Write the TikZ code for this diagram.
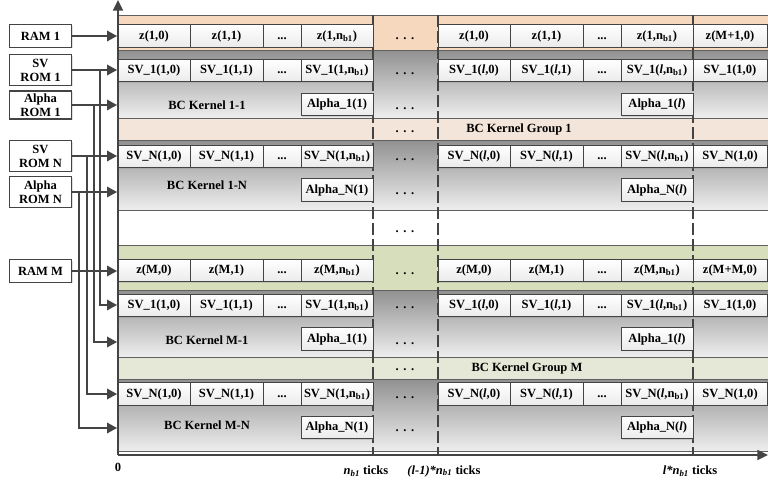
\documentclass[tikz,border=0pt]{standalone}
\usepackage{fontspec}
\setmainfont{Liberation Serif}
\usetikzlibrary{arrows.meta,shadows}

\definecolor{edge}{RGB}{68,68,68}
\definecolor{peach}{RGB}{246,216,191}
\definecolor{peachlt}{RGB}{243,229,218}
\definecolor{olive}{RGB}{214,222,188}
\definecolor{olivelt}{RGB}{229,231,215}
\definecolor{kerntop}{RGB}{145,145,145}
\definecolor{kernbot}{RGB}{238,238,238}
\newcommand{\nbo}{n\textsubscript{b1}}
\newcommand{\ddd}{.\hspace{3.5pt}.\hspace{3.5pt}.}

\tikzset{
  lbl/.style={font=\fontsize{9.4}{10.5}\selectfont\bfseries, inner sep=0pt},
  skip/.style={lbl, text height=6.8pt, text depth=2.2pt},
  cell/.style={skip, draw=edge, line width=0.6pt, top color=white, bottom color=gray!16,
    minimum width=#1, minimum height=17pt,
    drop shadow={opacity=0.25, shadow xshift=0.8pt, shadow yshift=-0.8pt}},
  cell/.default=54pt,
  rom/.style={lbl, draw=edge, line width=0.8pt, fill=white, align=center,
    minimum width=47pt, minimum height=#1,
    drop shadow={opacity=0.25, shadow xshift=0.8pt, shadow yshift=-0.8pt}},
  band/.style={draw=edge!85, line width=0.6pt},
  kern/.style={band, top color=kerntop, bottom color=kernbot},
  dashline/.style={draw=edge, line width=0.8pt, dash pattern=on 9pt off 3pt},
  flow/.style={draw=edge, line width=1pt, -{Triangle[length=7.5pt,width=8pt]}},
  axis/.style={draw=edge, line width=1.5pt, -{Triangle[length=8pt,width=7.5pt]}}
}

\begin{document}
\begin{tikzpicture}[x=0.75pt,y=0.75pt]%
\useasboundingbox (0,0) rectangle (768,-489);%
% bands of the two groups
\path[band, fill=peach] (118,-15) rectangle (769,-50);%
\path[kern] (118,-50) rectangle (769,-118);%
\path[band, fill=peachlt] (118,-118) rectangle (769,-140);%
\path[kern] (118,-140) rectangle (769,-210);%
\path[band, fill=olive] (118,-245) rectangle (769,-290);%
\path[kern] (118,-290) rectangle (769,-357);%
\path[band, fill=olivelt] (118,-357) rectangle (769,-379);%
\path[kern] (118,-379) rectangle (769,-451);%
% tick boundaries
\draw[dashline] (373,-15) -- (373,-455);%
\draw[dashline] (438,-15) -- (438,-455);%
\draw[dashline] (693,-15) -- (693,-455);%
% group 1: RAM row
\node[cell] (z1-0) at (154,-36) {z(1,0)};%
\node[cell=54.75pt] (z1-1) at (226.5,-36) {z(1,1)};%
\node[cell=28.5pt] (z1-d) at (282,-36) {...};%
\node[cell] (z1-n) at (337,-36) {z(1,\nbo)};%
\node[cell] (z1-l0) at (474,-36) {z(1,0)};%
\node[cell=54.75pt] (z1-l1) at (546.5,-36) {z(1,1)};%
\node[cell=28.5pt] (z1-ld) at (602,-36) {...};%
\node[cell] (z1-ln) at (657,-36) {z(1,\nbo)};%
\node[cell=55.5pt] (z1-x) at (730,-36) {z(M+1,0)};%
% kernel 1-1
\node[cell] (k11-0) at (154,-70.5) {SV\_1(1,0)};%
\node[cell=54.75pt] (k11-1) at (226.5,-70.5) {SV\_1(1,1)};%
\node[cell=28.5pt] (k11-d) at (282,-70.5) {...};%
\node[cell] (k11-n) at (337,-70.5) {SV\_1(1,\nbo)};%
\node[cell] (k11-l0) at (474,-70.5) {SV\_1(\textit{l},0)};%
\node[cell=54.75pt] (k11-l1) at (546.5,-70.5) {SV\_1(\textit{l},1)};%
\node[cell=28.5pt] (k11-ld) at (602,-70.5) {...};%
\node[cell] (k11-ln) at (657,-70.5) {SV\_1(\textit{l},\nbo)};%
\node[cell=55.5pt] (k11-x) at (730,-70.5) {SV\_1(1,0)};%
\node[lbl] (k11-lbl) at (207,-105) {BC Kernel 1-1};%
\node[cell] (k11-a) at (337,-104.5) {Alpha\_1(1)};%
\node[cell] (k11-la) at (657,-104.5) {Alpha\_1(\textit{l})};%
\node[lbl] (g1-lbl) at (519,-129) {BC Kernel Group 1};%
% kernel 1-N
\node[cell] (k1N-0) at (154,-156.5) {SV\_N(1,0)};%
\node[cell=54.75pt] (k1N-1) at (226.5,-156.5) {SV\_N(1,1)};%
\node[cell=28.5pt] (k1N-d) at (282,-156.5) {...};%
\node[cell] (k1N-n) at (337,-156.5) {SV\_N(1,\nbo)};%
\node[cell] (k1N-l0) at (474,-156.5) {SV\_N(\textit{l},0)};%
\node[cell=54.75pt] (k1N-l1) at (546.5,-156.5) {SV\_N(\textit{l},1)};%
\node[cell=28.5pt] (k1N-ld) at (602,-156.5) {...};%
\node[cell] (k1N-ln) at (657,-156.5) {SV\_N(\textit{l},\nbo)};%
\node[cell=55.5pt] (k1N-x) at (730,-156.5) {SV\_N(1,0)};%
\node[lbl] (k1N-lbl) at (207,-185) {BC Kernel 1-N};%
\node[cell] (k1N-a) at (337,-190) {Alpha\_N(1)};%
\node[cell] (k1N-la) at (657,-190) {Alpha\_N(\textit{l})};%
% group M: RAM row
\node[cell] (zM-0) at (154,-270.5) {z(M,0)};%
\node[cell=54.75pt] (zM-1) at (226.5,-270.5) {z(M,1)};%
\node[cell=28.5pt] (zM-d) at (282,-270.5) {...};%
\node[cell] (zM-n) at (337,-270.5) {z(M,\nbo)};%
\node[cell] (zM-l0) at (474,-270.5) {z(M,0)};%
\node[cell=54.75pt] (zM-l1) at (546.5,-270.5) {z(M,1)};%
\node[cell=28.5pt] (zM-ld) at (602,-270.5) {...};%
\node[cell] (zM-ln) at (657,-270.5) {z(M,\nbo)};%
\node[cell=55.5pt] (zM-x) at (730,-270.5) {z(M+M,0)};%
% kernel M-1
\node[cell] (kM1-0) at (154,-305.5) {SV\_1(1,0)};%
\node[cell=54.75pt] (kM1-1) at (226.5,-305.5) {SV\_1(1,1)};%
\node[cell=28.5pt] (kM1-d) at (282,-305.5) {...};%
\node[cell] (kM1-n) at (337,-305.5) {SV\_1(1,\nbo)};%
\node[cell] (kM1-l0) at (474,-305.5) {SV\_1(\textit{l},0)};%
\node[cell=54.75pt] (kM1-l1) at (546.5,-305.5) {SV\_1(\textit{l},1)};%
\node[cell=28.5pt] (kM1-ld) at (602,-305.5) {...};%
\node[cell] (kM1-ln) at (657,-305.5) {SV\_1(\textit{l},\nbo)};%
\node[cell=55.5pt] (kM1-x) at (730,-305.5) {SV\_1(1,0)};%
\node[lbl] (kM1-lbl) at (207,-340) {BC Kernel M-1};%
\node[cell] (kM1-a) at (337,-339) {Alpha\_1(1)};%
\node[cell] (kM1-la) at (657,-339) {Alpha\_1(\textit{l})};%
\node[lbl] (gM-lbl) at (527,-368) {BC Kernel Group M};%
% kernel M-N
\node[cell] (kMN-0) at (154,-394) {SV\_N(1,0)};%
\node[cell=54.75pt] (kMN-1) at (226.5,-394) {SV\_N(1,1)};%
\node[cell=28.5pt] (kMN-d) at (282,-394) {...};%
\node[cell] (kMN-n) at (337,-394) {SV\_N(1,\nbo)};%
\node[cell] (kMN-l0) at (474,-394) {SV\_N(\textit{l},0)};%
\node[cell=54.75pt] (kMN-l1) at (546.5,-394) {SV\_N(\textit{l},1)};%
\node[cell=28.5pt] (kMN-ld) at (602,-394) {...};%
\node[cell] (kMN-ln) at (657,-394) {SV\_N(\textit{l},\nbo)};%
\node[cell=55.5pt] (kMN-x) at (730,-394) {SV\_N(1,0)};%
\node[lbl] (kMN-lbl) at (207,-425) {BC Kernel M-N};%
\node[cell] (kMN-a) at (337,-427.5) {Alpha\_N(1)};%
\node[cell] (kMN-la) at (657,-427.5) {Alpha\_N(\textit{l})};%
% skipped ticks
\node[skip] (d1) at (405,-36) {\ddd};%
\node[skip] (d2) at (405,-71) {\ddd};%
\node[skip] (d3) at (405,-106) {\ddd};%
\node[skip] (d4) at (405,-129) {\ddd};%
\node[skip] (d5) at (405,-157) {\ddd};%
\node[skip] (d6) at (405,-191) {\ddd};%
\node[skip] (d7) at (405,-229) {\ddd};%
\node[skip] (d8) at (405,-271) {\ddd};%
\node[skip] (d9) at (405,-305) {\ddd};%
\node[skip] (d10) at (405,-341) {\ddd};%
\node[skip] (d11) at (405,-367) {\ddd};%
\node[skip] (d12) at (405,-395) {\ddd};%
\node[skip] (d13) at (405,-428) {\ddd};%
% axes
\coordinate (O) at (118,-455);%
\coordinate (ytop) at (118,0);%
\coordinate (xend) at (768,-455);%
\draw[axis] (O) -- (ytop);%
\draw[axis] (O) -- (xend);%
\node[lbl] (t0) at (118,-467) {0};%
\node[lbl] (t1) at (366,-471) {\textit{n}\textsubscript{\textit{b1}} ticks};%
\node[lbl] (t2) at (444,-471) {\textit{(l-1)*n}\textsubscript{\textit{b1}} ticks};%
\node[lbl] (t3) at (690,-471) {\textit{l*n}\textsubscript{\textit{b1}} ticks};%
% memories
\node[rom=17pt] (ram1) at (40.5,-36) {RAM 1};%
\node[rom=23pt] (svrom1) at (40.5,-70) {SV\\ROM 1};%
\node[rom=21pt] (alrom1) at (40.5,-105) {Alpha\\ROM 1};%
\node[rom=23pt] (svromN) at (40.5,-156) {SV\\ROM N};%
\node[rom=23pt] (alromN) at (40.5,-192) {Alpha\\ROM N};%
\node[rom=17pt] (ramM) at (40.5,-271) {RAM M};%
% inputs on the time axis
\coordinate (t-z1) at (117,-36);%
\coordinate (t-k11) at (117,-70);%
\coordinate (t-k11a) at (117,-105);%
\coordinate (t-k1N) at (117,-156);%
\coordinate (t-k1Na) at (117,-192);%
\coordinate (t-zM) at (117,-271);%
\coordinate (t-kM1) at (117,-305);%
\coordinate (t-kM1a) at (117,-342);%
\coordinate (t-kMN) at (117,-394);%
\coordinate (t-kMNa) at (117,-428);%
\coordinate (b-sv1) at (100,-70);%
\coordinate (b-al1) at (94,-105);%
\coordinate (b-svN) at (87,-156);%
\coordinate (b-alN) at (79,-192);%
\draw[flow] (ram1) -- (t-z1);%
\draw[flow] (svrom1) -- (t-k11);%
\draw[flow] (alrom1) -- (t-k11a);%
\draw[flow] (svromN) -- (t-k1N);%
\draw[flow] (alromN) -- (t-k1Na);%
\draw[flow] (ramM) -- (t-zM);%
\draw[flow] (b-sv1) |- (t-kM1);%
\draw[flow] (b-al1) |- (t-kM1a);%
\draw[flow] (b-svN) |- (t-kMN);%
\draw[flow] (b-alN) |- (t-kMNa);%
\end{tikzpicture}
\end{document}
